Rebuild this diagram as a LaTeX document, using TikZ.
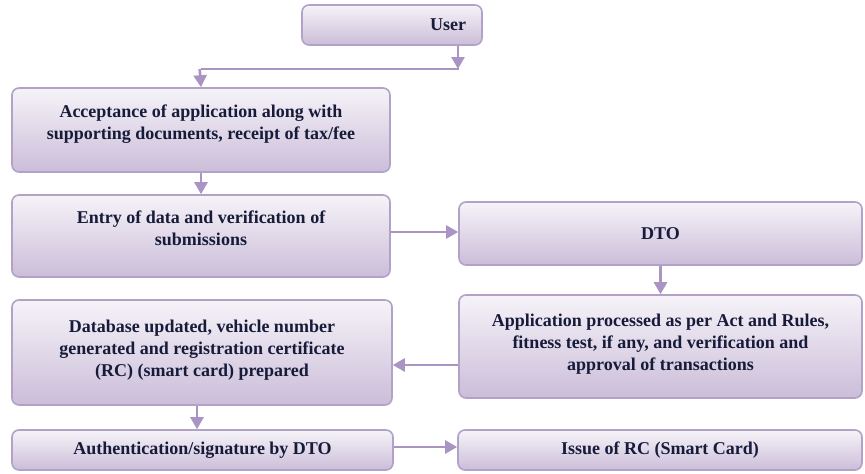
\documentclass[tikz,border=0pt]{standalone}
\usepackage{fontspec}
\setmainfont{Liberation Serif}
\usetikzlibrary{shapes,arrows.meta}
\definecolor{boxline}{HTML}{B3A2C8}
\definecolor{boxtop}{HTML}{F6F3F8}
\definecolor{boxbot}{HTML}{CBBDD9}
\definecolor{arrowcol}{HTML}{A994C3}
\definecolor{textcol}{HTML}{161B3A}
\tikzstyle{block} = [rectangle, draw=boxline, line width=1.6pt, rounded corners=7pt,
    top color=boxtop, bottom color=boxbot, text=textcol, align=center,
    font=\fontsize{18}{22}\selectfont\bfseries, inner sep=0pt]
\tikzstyle{lift} = [text depth=16pt]
\tikzstyle{lightlift} = [text depth=9pt]
\tikzstyle{line} = [draw=arrowcol, line width=2.6pt, -{Triangle[length=12pt,width=13pt]}]
\tikzstyle{plain} = [draw=arrowcol, line width=2.6pt]

\begin{document}
\begin{tikzpicture}[x=1pt, y=-1pt]
        \useasboundingbox (0,0) rectangle (865,474);

        % Place nodes
        \node [block, minimum width=180pt, minimum height=40pt] (user) at (392,25) {\hspace*{112pt}User};
        \node [block, lift, minimum width=378pt, minimum height=84pt] (accept) at (201,130)
            {Acceptance of application along with\\supporting documents, receipt of tax/fee};
        \node [block, lift, minimum width=378pt, minimum height=82pt] (entry) at (201,236)
            {Entry of data and verification of\\submissions};
        \node [block, minimum width=403pt, minimum height=63pt] (dto) at (660.5,233.5) {DTO};
        \node [block, lightlift, minimum width=403pt, minimum height=103pt] (process) at (660.5,346.5)
            {Application processed as per Act and Rules,\\fitness test, if any, and verification and\\approval of transactions};
        \node [block, lightlift, minimum width=380pt, minimum height=105pt] (database) at (202,352.5)
            {Database updated, vehicle number\\generated and registration certificate\\(RC) (smart card) prepared};
        \node [block, minimum width=381pt, minimum height=40pt] (auth) at (202.5,450)
            {Authentication/signature by DTO};
        \node [block, minimum width=404pt, minimum height=40pt] (issue) at (660,450)
            {Issue of RC (Smart Card)};
        \coordinate (bend) at (458,69);

        % Draw edges
        \path [line] (user.south -| bend) -- (bend);
        \path [plain] ([xshift=1.3pt]bend) -- (accept.north |- bend);
        \path [line] ([xshift=-1.3pt]accept.north |- bend) -- (accept.north);
        \path [line] (accept.south) -- (entry.north);
        \path [line] (entry.east |- 0,232) -- (dto.west |- 0,232);
        \path [line] (dto.south) -- (process.north);
        \path [line] (process.west |- 0,365) -- (database.east |- 0,365);
        \path [line] (database.south -| 197,0) -- (auth.north -| 197,0);
        \path [line] (auth.east |- 0,447) -- (issue.west |- 0,447);
\end{tikzpicture}
\end{document}
